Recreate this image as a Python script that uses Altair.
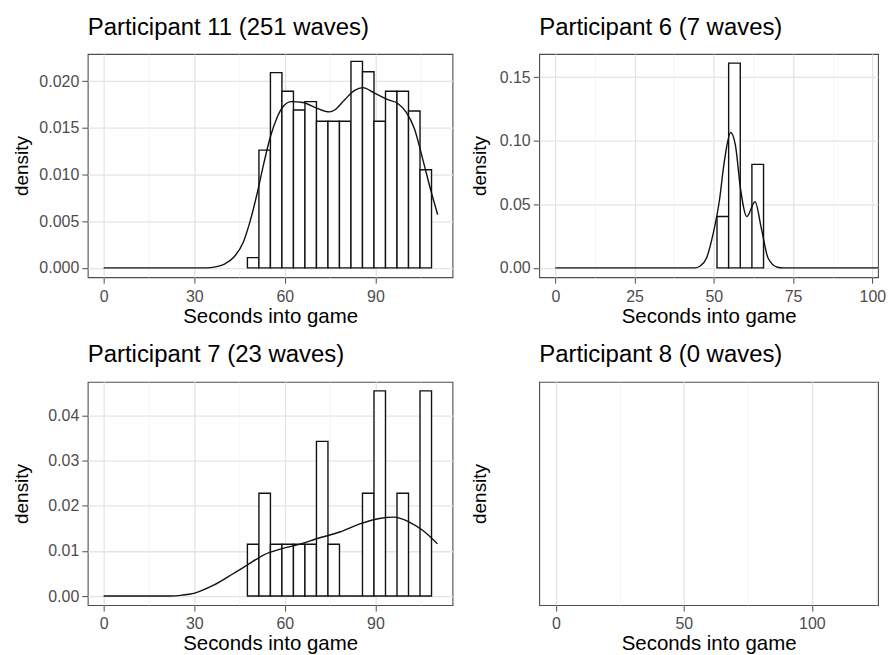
import altair as alt
import pandas as pd

FONT = "Liberation Sans"

# ---------------- data ----------------
# Participant 11
p11_title = "Participant 11 (251 waves)"
p11_bin_start = 47.6
p11_bin_width = 3.81
p11_hist = [0.0011, 0.0126, 0.0209, 0.0189, 0.0169, 0.0178, 0.0157, 0.0157,
            0.0157, 0.0221, 0.0210, 0.0157, 0.0189, 0.0189, 0.0168, 0.0105]
p11_curve_t = [0, 34, 37, 40, 43, 46.3, 48.5, 50.7, 52.9, 55.1, 57.3, 59.5, 62.2,
               66, 70.5, 74.8, 76.5, 79.8, 83.1, 85.8, 89.7, 94.1, 97.4, 100.1,
               102.9, 105.6, 108.4, 110.6]
p11_curve_d = [0, 0, 0.0001, 0.0004, 0.0011, 0.0028, 0.005, 0.0078, 0.011, 0.0139, 0.016,
               0.0173, 0.0178, 0.0177, 0.0171, 0.0167, 0.0169, 0.018, 0.019, 0.0193,
               0.0187, 0.018, 0.0176, 0.0167, 0.0149, 0.0117, 0.0082, 0.0057]

# Participant 6
p6_title = "Participant 6 (7 waves)"
p6_bin_start = 51.0
p6_bin_width = 3.67
p6_hist = [0.0404, 0.161, 0.0, 0.0814]
p6_curve_t = [0, 44, 45.6, 47.7, 49.7, 51.7, 53.3, 55.3, 56.8, 58.4, 60.4, 63.0,
              65.0, 67.1, 70.1, 72, 102.5]
p6_curve_d = [0, 0, 0.0013, 0.0078, 0.026, 0.052, 0.0835, 0.1064, 0.0965, 0.0626,
              0.0404, 0.052, 0.031, 0.0078, 0.0005, 0, 0]

# Participant 7
p7_title = "Participant 7 (23 waves)"
p7_bin_start = 47.6
p7_bin_width = 3.81
p7_hist = [0.0115, 0.0228, 0.0115, 0.0115, 0.0115, 0.0115, 0.0343, 0.0115,
           0.0, 0.0, 0.0228, 0.0455, 0.0, 0.0228, 0.0, 0.0455]
p7_curve_t = [0, 22, 26, 29.8, 36.4, 43, 47.6, 52.9, 59, 65, 70.5, 78.2, 85.3, 91.3,
              96.2, 101.2, 105.6, 110.5]
p7_curve_d = [0, 0, 0.0002, 0.0006, 0.0024, 0.005, 0.0069, 0.0091, 0.0105, 0.0115,
              0.0127, 0.0142, 0.0161, 0.0172, 0.0175, 0.0164, 0.0146, 0.0116]

# Participant 8 (no waves)
p8_title = "Participant 8 (0 waves)"
p8_times = []
p8_density = []

# axis breaks
p11_x_major = [0, 30, 60, 90]
p11_x_minor = [15, 45, 75, 105]
p11_y_major = [0.0, 0.005, 0.01, 0.015, 0.02]
p11_y_minor = [0.0025, 0.0075, 0.0125, 0.0175, 0.0225]
p6_x_major = [0, 25, 50, 75, 100]
p6_x_minor = [12.5, 37.5, 62.5, 87.5]
p6_y_major = [0.0, 0.05, 0.10, 0.15]
p6_y_minor = [0.025, 0.075, 0.125]
p7_x_major = [0, 30, 60, 90]
p7_x_minor = [15, 45, 75, 105]
p7_y_major = [0.0, 0.01, 0.02, 0.03, 0.04]
p7_y_minor = [0.005, 0.015, 0.025, 0.035, 0.045]
p8_x_major = [0, 50, 100]
p8_x_minor = [25, 75, 125]

X_TITLE = "Seconds into game"
Y_TITLE = "density"


def axis(major, minor, fmt, title, extent, title_pad, label_pad, title_size):
    allv = sorted(list(major) + list(minor))
    maj = "[" + ",".join(repr(float(v)) for v in major) + "]"
    test = f"indexof({maj}, datum.value) >= 0"
    return alt.Axis(
        values=allv, format=fmt, title=title,
        labelExpr=f"{test} ? datum.label : ''",
        labelOverlap=False, labelFlush=False,
        grid=True,
        gridColor={"condition": {"test": test, "value": "#E4E4E4"}, "value": "#F0F0F0"},
        gridWidth={"condition": {"test": test, "value": 1.3}, "value": 0.7},
        tickOpacity={"condition": {"test": test, "value": 1}, "value": 0},
        tickSize=6, tickColor="#4D4D4D", tickWidth=1,
        domain=False,
        labelPadding=label_pad, titlePadding=title_pad, titleFontSize=title_size,
        minExtent=extent, maxExtent=extent,
    )


TITLE_OFFSET = 14.5
XT = 20.5   # x title size
YT = 19     # y title size


def panel(title, bin_start, bin_width, hist, ct, cd, xdom, ydom,
          xmaj, xmin, ymaj, ymin, yfmt, yext, width, height):
    starts = [bin_start + i * bin_width for i in range(len(hist))]
    bars_df = pd.DataFrame({"start": starts,
                            "end": [s + bin_width for s in starts],
                            "density": hist})
    curve_df = pd.DataFrame({"t": ct, "d": cd})
    xax = axis(xmaj, xmin, "d", X_TITLE, 25, 4, 5, XT)
    yax = axis(ymaj, ymin, yfmt, Y_TITLE, yext, 6, 3, YT)
    xs = alt.Scale(domain=xdom, nice=False, zero=False)
    ys = alt.Scale(domain=ydom, nice=False, zero=False)
    bars = alt.Chart(bars_df).mark_bar(
        fill="white", stroke="#111111", strokeWidth=1.4, clip=True
    ).encode(
        x=alt.X("start:Q", scale=xs, axis=xax),
        x2="end:Q",
        y=alt.Y("density:Q", scale=ys, axis=yax),
        y2=alt.datum(0),
    )
    line = alt.Chart(curve_df).mark_line(
        color="#111111", strokeWidth=1.4, interpolate="monotone", clip=True
    ).encode(
        x=alt.X("t:Q", scale=xs),
        y=alt.Y("d:Q", scale=ys),
    )
    return alt.layer(bars, line).properties(
        width=width, height=height,
        title=alt.TitleParams(text=title, offset=TITLE_OFFSET),
    )


W_LEFT, W_RIGHT, H = 366, 340, 224

c11 = panel(p11_title, p11_bin_start, p11_bin_width, p11_hist, p11_curve_t, p11_curve_d,
            [-5.27, 115.5], [-0.001, 0.0229], p11_x_major, p11_x_minor,
            p11_y_major, p11_y_minor, ".3f", 50, W_LEFT, H)
c6 = panel(p6_title, p6_bin_start, p6_bin_width, p6_hist, p6_curve_t, p6_curve_d,
           [-5.1, 101.8], [-0.0073, 0.1682], p6_x_major, p6_x_minor,
           p6_y_major, p6_y_minor, ".2f", 44, W_RIGHT, H)
c7 = panel(p7_title, p7_bin_start, p7_bin_width, p7_hist, p7_curve_t, p7_curve_d,
           [-5.27, 115.5], [-0.002, 0.0475], p7_x_major, p7_x_minor,
           p7_y_major, p7_y_minor, ".2f", 50, W_LEFT, H)

empty_df = pd.DataFrame({"t": pd.Series(p8_times, dtype=float),
                         "d": pd.Series(p8_density, dtype=float)})
c8 = alt.Chart(empty_df).mark_point(opacity=0).encode(
    x=alt.X("t:Q", scale=alt.Scale(domain=[-6.5, 125.85], nice=False, zero=False),
            axis=axis(p8_x_major, p8_x_minor, "d", X_TITLE, 25, 4, 5, XT)),
    y=alt.Y("d:Q", scale=alt.Scale(domain=[0, 1], nice=False),
            axis=alt.Axis(title=Y_TITLE, labels=False, ticks=False, grid=False,
                          domain=False, minExtent=44, maxExtent=44, titlePadding=6,
                          titleFontSize=YT)),
).properties(width=W_RIGHT, height=H,
             title=alt.TitleParams(text=p8_title, offset=TITLE_OFFSET))

chart = alt.concat(
    c11, c6, c7, c8, columns=2,
    spacing={"row": 105, "column": 87}, bounds="flush", align="each",
).properties(
    padding={"left": 4, "top": 5, "right": 0, "bottom": 0}
).configure_view(
    stroke="#4D4D4D", strokeWidth=1.1
).configure_axis(
    labelFont=FONT, labelFontSize=16, labelColor="#4D4D4D",
    titleFont=FONT, titleFontWeight="normal", titleColor="black",
).configure_title(
    font=FONT, fontSize=24, fontWeight="normal", color="black",
    anchor="start", frame="group",
)

chart.save("out.html", embed_options={"renderer": "svg", "actions": False})
